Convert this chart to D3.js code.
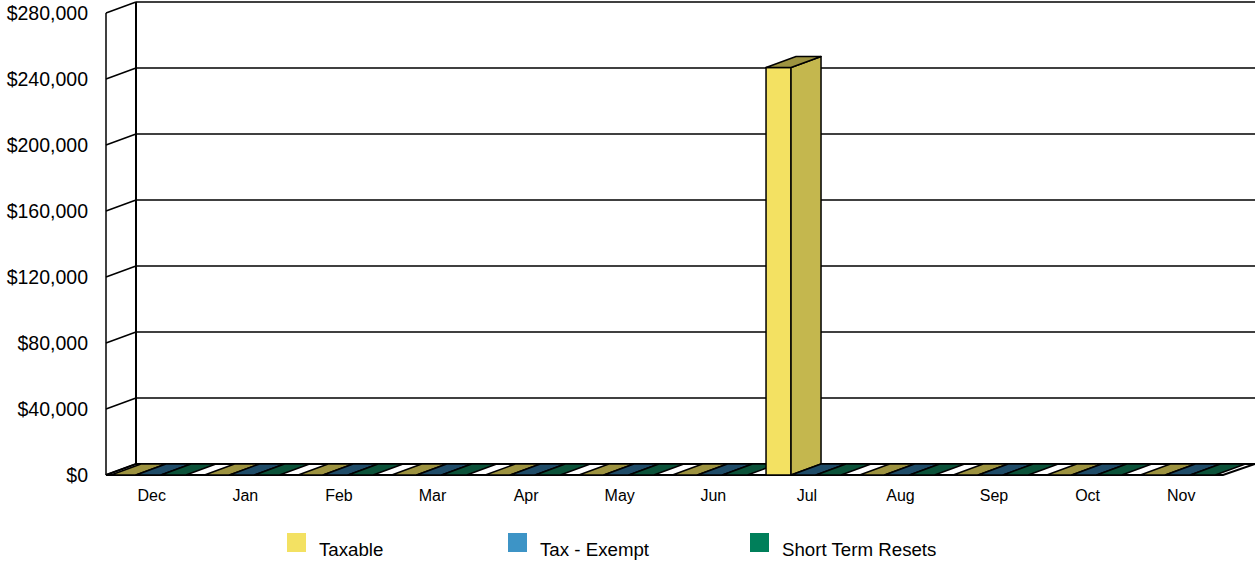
<!DOCTYPE html>
<html><head><meta charset="utf-8">
<script src="https://cdn.jsdelivr.net/npm/d3@7"></script>
<style>body{margin:0;background:#fff}svg{display:block;font-family:"Liberation Sans",Arial,sans-serif}</style>
</head><body><svg id="c" width="1255" height="562"></svg>
<script>
const months = ["Dec","Jan","Feb","Mar","Apr","May","Jun","Jul","Aug","Sep","Oct","Nov"];
const seriesNames = ["Taxable","Tax - Exempt","Short Term Resets"];
const taxable    = [0,0,0,0,0,0,0,247000,0,0,0,0];
const taxExempt  = [0,0,0,0,0,0,0,0,0,0,0,0];
const shortTerm  = [0,0,0,0,0,0,0,0,0,0,0,0];
const yTicks = [0,40000,80000,120000,160000,200000,240000,280000];
const baseColors = ["#f3e162","#3d94c6","#007f5a"];
const sideColors = ["#c4b74e","#2f6f94","#005f43"];
const topColors  = ["#9d9340","#1f4c68","#0b5239"];

const series = [taxable, taxExempt, shortTerm];
const svg = d3.select("#c");
const DX = 30, DY = -11;
const x = d3.scaleBand().domain(months).range([105,1228]);
const xs = d3.scaleBand().domain(d3.range(3)).range([0, x.bandwidth()]).paddingOuter(0.372).paddingInner(0).align(0.32);
const y = d3.scaleLinear().domain([0,280000]).range([475,13]);
const floorX0 = 106, floorX1 = 1223;

// back wall gridlines
const g = svg.append("g").attr("stroke","#000").attr("fill","none");
yTicks.forEach(t=>{
  g.append("line").attr("x1",floorX0+DX).attr("x2",1255).attr("y1",y(t)+DY).attr("y2",y(t)+DY).attr("stroke-width",1.5);
  g.append("line").attr("x1",floorX0).attr("x2",floorX0+DX).attr("y1",y(t)).attr("y2",y(t)+DY).attr("stroke-width",1.5);
});
g.append("line").attr("x1",floorX0+DX).attr("x2",floorX0+DX).attr("y1",y(280000)+DY).attr("y2",y(0)+DY).attr("stroke-width",2);
g.append("line").attr("x1",floorX0).attr("x2",floorX0).attr("y1",y(280000)).attr("y2",y(0)).attr("stroke-width",1.5);

// floor
svg.append("polygon")
  .attr("points",[[floorX0,y(0)],[floorX1,y(0)],[floorX1+DX+2,y(0)+DY],[floorX0+DX,y(0)+DY]].map(p=>p.join(",")).join(" "))
  .attr("fill","#fff").attr("stroke","#000").attr("stroke-width",2);

// bars
const bars = svg.append("g").attr("stroke","#000").attr("stroke-width",1.5).attr("stroke-linejoin","round");
months.forEach((m,i)=>{
  series.forEach((s,k)=>{
    const v = s[i];
    const bx = x(m) + xs(k), bw = xs.bandwidth();
    const yt = y(v), yb = y(0);
    const pts = a => a.map(p=>p.join(",")).join(" ");
    if (v > 0) {
      bars.append("polygon").attr("points",pts([[bx,yb],[bx+bw,yb],[bx+bw,yt],[bx,yt]])).attr("fill",baseColors[k]);
      bars.append("polygon").attr("points",pts([[bx+bw,yb],[bx+bw+DX,yb+DY],[bx+bw+DX,yt+DY],[bx+bw,yt]])).attr("fill",sideColors[k]);
    }
    bars.append("polygon").attr("points",pts([[bx,yt],[bx+bw,yt],[bx+bw+DX,yt+DY],[bx+DX,yt+DY]])).attr("fill",topColors[k]);
  });
});

// y labels
svg.append("g").selectAll("text").data(yTicks).join("text")
  .attr("x",88).attr("y",d=>y(d)).attr("dy","0.35em").attr("text-anchor","end")
  .attr("font-size",19.5).attr("fill","#000").text(d3.format("$,"));

// x labels
svg.append("g").selectAll("text").data(months).join("text")
  .attr("x",d=>x(d)+x.bandwidth()/2).attr("y",501).attr("text-anchor","middle")
  .attr("font-size",16).attr("fill","#000").text(d=>d);

// legend
const legX = [287,508,750];
const lg = svg.append("g");
seriesNames.forEach((n,k)=>{
  lg.append("rect").attr("x",legX[k]).attr("y",533).attr("width",19).attr("height",19).attr("fill",baseColors[k]);
  lg.append("text").attr("x",legX[k]+32).attr("y",556).attr("font-size",18.7).attr("fill","#000").text(n);
});
</script></body></html>
